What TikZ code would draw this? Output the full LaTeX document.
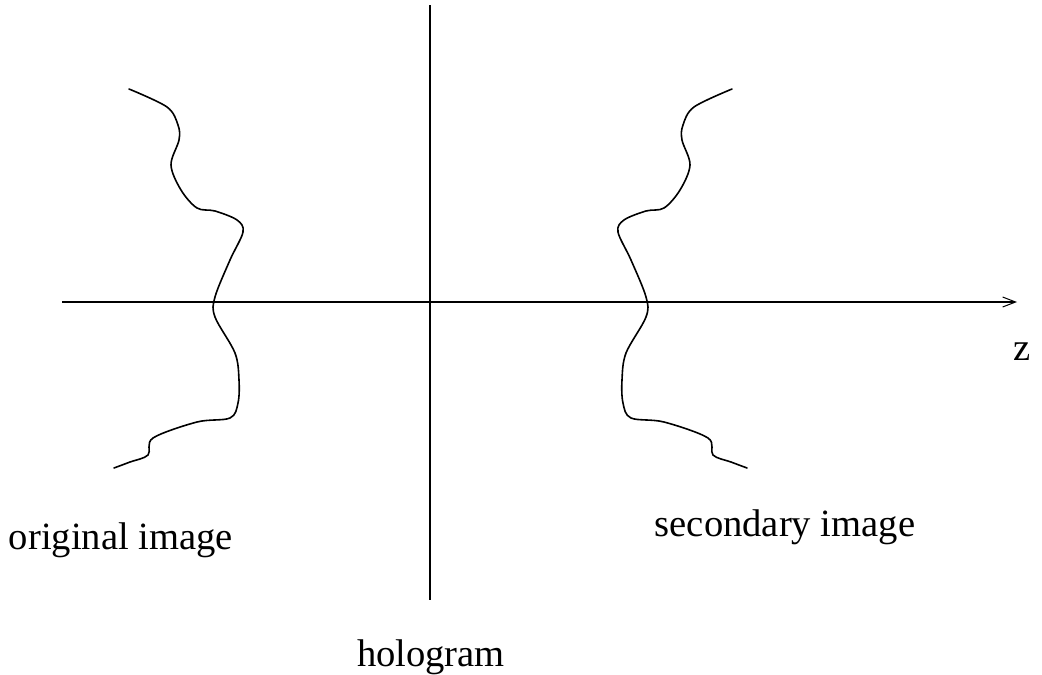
\documentclass[tikz,border=0pt]{standalone}
\usepackage{fontspec}
\setmainfont{Liberation Serif}
\usetikzlibrary{arrows.meta}
\begin{document}
\begin{tikzpicture}[x=1pt,y=-1pt,
  axis/.style={line width=1.1pt},
  wave/.style={line width=1.6pt, line join=round, line cap=round},
  lab/.style={font=\fontsize{38.6}{42}\selectfont, inner sep=0pt}]
\useasboundingbox (0,0) rectangle (1042,675);
\fill[white] (0,0) rectangle (1042,675);
% axes
\coordinate (zs) at (62,302);
\coordinate (ze) at (1017,302);
\coordinate (ht) at (430,5);
\coordinate (hb) at (430,600);
\draw[axis,-{Straight Barb[length=13pt,width=10pt,line width=1pt]}] (zs) -- (ze);
\draw[axis] (ht) -- (hb);
% original image wavefront
\draw[wave] plot[smooth,tension=0.55] coordinates {
 (129,89) (167,107) (178,125) (179,140) (171,165) (181,190) (197,208) (215,211) (237,220) (243,232)
 (230,260) (215,297) (215,317) (235,353) (239,380) (238,403) (230,418) (197,422) (153,438)
 (148,455) (130,462) (114,468)};
% secondary image wavefront (mirror)
\begin{scope}[xshift=861pt, xscale=-1]
\draw[wave] plot[smooth,tension=0.55] coordinates {
 (129,89) (167,107) (178,125) (179,140) (171,165) (181,190) (197,208) (215,211) (237,220) (243,232)
 (230,260) (215,297) (215,317) (235,353) (239,380) (238,403) (230,418) (197,422) (153,438)
 (148,455) (130,462) (114,468)};
\end{scope}
% labels
\node[lab] (z) at (1022,352) {z};
\node[lab] (orig) at (121,540) {original image};
\node[lab] (sec) at (785,527) {secondary image};
\node[lab] (holo) at (431,657) {hologram};
\end{tikzpicture}
\end{document}
